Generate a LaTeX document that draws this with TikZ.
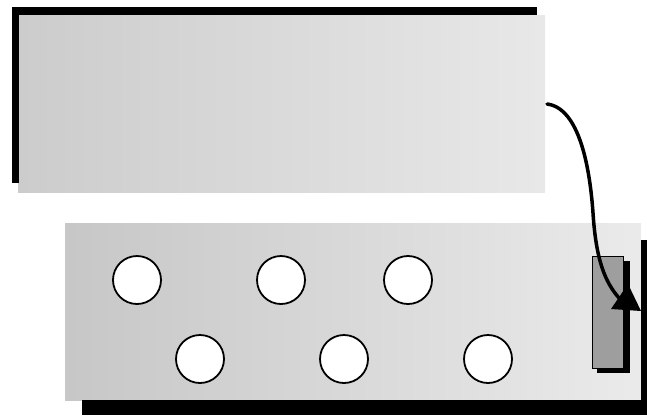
\documentclass[tikz,border=0pt]{standalone}
\begin{document}
\begin{tikzpicture}[x=1pt,y=-1pt,
  hole/.style={circle,draw=black,line width=1.8pt,fill=white,minimum size=48pt,inner sep=0pt},
  flow/.style={line width=3.5pt,line cap=round}]
\useasboundingbox (0,0) rectangle (647,416);
% top box
\shade[left color=black!20,right color=black!9] (18,15) rectangle (545,192);
\fill[black] (12,7) rectangle (537,15);
\fill[black] (12,7) rectangle (19,183);
% bottom box
\shade[left color=black!22,right color=black!8] (65,223) rectangle (641,400);
\fill[black] (641,240) rectangle (647,415);
\fill[black] (82,400) rectangle (647,415);
% holes
\node[hole] (h1) at (137,280) {};
\node[hole] (h2) at (281,280) {};
\node[hole] (h3) at (408,280) {};
\node[hole] (h4) at (200,359) {};
\node[hole] (h5) at (344,359) {};
\node[hole] (h6) at (488,359) {};
% slot with shadow
\fill[black] (597,261) rectangle (630,373);
\node[draw=black,line width=0.8pt,fill=black!38,minimum width=31pt,minimum height=112pt,inner sep=0pt,anchor=north west] (slot) at (592,256) {};
% arrow
\coordinate (s) at (547,104);
\coordinate (e) at (619,298);
\draw[flow] (s) .. controls (580,108) and (590,170) .. (593,213) .. controls (596,260) and (605,282) .. (e);
\fill[black] (611,309) -- (641,311) -- (628,284) -- cycle;
\end{tikzpicture}
\end{document}
